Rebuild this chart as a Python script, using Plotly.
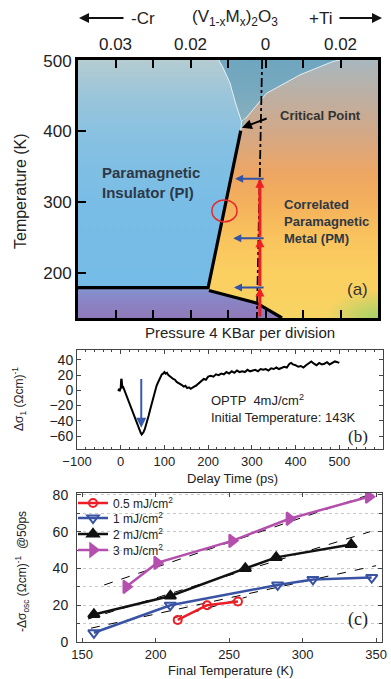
import plotly.graph_objects as go

W, H = 391, 679
FONT = "Liberation Sans, Arial, sans-serif"
SERIF = "Liberation Serif, Times New Roman, serif"

# ---------------- Panel (a): phase diagram (x in pressure divisions, y in K) ----------------
doping_ticks = [1, 2, 3, 4, 5, 6, 7]
doping_labels = ["0.03", "", "0.02", "", "0", "", "0.02"]
temp_ticks = [200, 300, 400, 500]

pi_x = [0, 3.47, 4.34, 4.36, 4.2, 4.05, 3.85, 3.75, 0]
pi_y = [179, 179, 401, 414, 440, 469, 492, 501, 501]
top_x = [4.34, 4.36, 4.2, 4.05, 3.85, 3.75, 7.0, 6.8, 5.92, 5.03, 4.5]
top_y = [401, 414, 440, 469, 492, 501, 501, 499, 480, 454, 420]
pm_x = [3.47, 3.49, 4.77, 5.44, 8, 8, 7.0, 6.8, 5.92, 5.03, 4.5, 4.34]
pm_y = [179, 175, 157, 136, 136, 501, 501, 499, 480, 454, 420, 401]
afi_x = [0, 0, 3.47, 3.49, 4.77, 5.44]
afi_y = [136, 179, 179, 175, 157, 136]
green_x = [6.6, 9.4, 9.4, 6.6]
green_y = [96, 96, 176, 176]

upper_line_x = [0, 3.47, 4.34]
upper_line_y = [179, 179, 401]
lower_line_x = [3.49, 4.77, 5.44]
lower_line_y = [175, 157, 136]
left_curve_x = [4.34, 4.36, 4.2, 4.05, 3.85, 3.75]
left_curve_y = [401, 414, 440, 469, 492, 501]
right_curve_x = [4.36, 4.5, 5.03, 5.92, 6.8, 7.0]
right_curve_y = [414, 420, 454, 480, 499, 501]
dashdot_x = [4.91, 4.77]
dashdot_y = [501, 136]

heat_x = 4.85
heat_steps = [136, 179, 249, 333]       # red arrow segments
blue_arrow_T = [333, 249, 179]
blue_arrow_from = [4.99, 4.99, 4.99]
blue_arrow_to = [4.19, 4.14, 4.16]

# ---------------- Panel (b): OPTP transient ----------------
delay_ps = [-6, -4, -2, 0, 1, 2, 3, 4, 6, 8,
            10, 13, 16, 19, 22, 25, 28, 31, 34, 37,
            40, 43, 46, 48, 50, 52, 55, 58, 61, 64,
            67, 70, 73, 76, 79, 82, 85, 88, 91, 94,
            97, 100, 103, 106, 109, 112, 116, 120, 124, 128,
            132, 136, 140, 144, 148, 152, 156, 160, 164, 168,
            172, 176, 180, 185, 190, 195, 200, 206, 212, 218,
            224, 230, 236, 242, 248, 254, 260, 266, 272, 278,
            284, 290, 296, 302, 308, 314, 320, 326, 332, 338,
            344, 350, 356, 362, 368, 374, 380, 386, 390, 394,
            400, 406, 412, 418, 424, 430, 436, 442, 448, 454,
            460, 466, 472, 478, 484, 490, 496, 500]
dsigma = [-1, 1, 0, 3, 14, 15, 8, 3, 4, 1,
          -2, -8, -11, -16, -21, -25, -30, -35, -40, -45,
          -49, -53, -56, -58, -57, -55, -51, -46, -40, -33,
          -26, -19, -13, -7, 0, 6, 10, 14, 18, 21,
          22, 24, 22, 23, 20, 19, 17, 15, 14, 11,
          10, 8, 7, 5, 6, 3, 4, 2, 4, 5,
          6, 8, 10, 13, 15, 14, 18, 19, 18, 21,
          20, 22, 21, 24, 22, 25, 23, 26, 24, 25,
          24, 27, 25, 26, 27, 25, 28, 27, 28, 26,
          29, 28, 30, 28, 29, 31, 30, 35, 36, 34,
          33, 31, 32, 30, 33, 36, 38, 35, 33, 36,
          34, 35, 37, 34, 36, 38, 37, 36]
assert len(delay_ps) == len(dsigma)
dip_arrow_t = 47
dip_arrow_from = 17
dip_arrow_to = -49

# ---------------- Panel (c): -dsigma_osc vs final temperature ----------------
fluences = ["0.5 mJ/cm<sup>2</sup>", "1 mJ/cm<sup>2</sup>", "2 mJ/cm<sup>2</sup>", "3 mJ/cm<sup>2</sup>"]
T05 = [215, 235, 256]
S05 = [12, 20, 22]
T1 = [158, 210, 283, 307, 347]
S1 = [5, 20, 31, 34, 35]
T2 = [158, 210, 261, 282, 333]
S2 = [15, 25, 40, 46, 53]
T3 = [180, 201, 252, 291, 345]
S3 = [30, 43, 55, 67, 79]
fit_T = [[212, 262], [156, 350], [154, 346], [165, 345]]
fit_S = [[13, 24.5], [7.5, 41.5], [12.5, 60], [31, 80]]

colors_c = ["#ee1d25", "#3953a4", "#111111", "#b54fae"]
symbols_c = ["circle-open", "triangle-down-open", "triangle-up", "triangle-right"]
sizes_c = [8, 10, 10, 11]
legend_rows_px = [503, 518, 534, 550]

# ======================================================================
fig = go.Figure()


def poly(x, y, stops):
    lo = min(t for t, _ in stops)
    hi = max(t for t, _ in stops)
    cs = [[(t - lo) / (hi - lo), c] for t, c in stops]
    fig.add_trace(go.Scatter(
        x=x + [x[0]], y=y + [y[0]], mode="lines", fill="toself",
        line=dict(width=0.6, color="rgba(0,0,0,0)"),
        fillgradient=dict(type="vertical", colorscale=cs, start=lo, stop=hi),
        hoverinfo="skip", showlegend=False, xaxis="x", yaxis="y"))


poly(pm_x, pm_y, [(136, "#f7d463"), (200, "#fbcf60"), (250, "#f9c35d"),
                  (300, "#f4b05c"), (340, "#eea663"), (400, "#d2a888"),
                  (460, "#b9b1a8"), (501, "#a8b7bf")])
poly(pi_x, pi_y, [(179, "#74bbe7"), (300, "#79bde6"), (380, "#84c0e2"),
                  (450, "#9ac5da"), (501, "#b5ccd1")])
poly(top_x, top_y, [(401, "#8fb2bd"), (460, "#76a9bf"), (501, "#6fa6bf")])
poly(afi_x, afi_y, [(136, "#9079b9"), (160, "#8a84c4"), (179, "#8395d1")])
fig.add_trace(go.Scatter(
    x=green_x + [green_x[0]], y=green_y + [green_y[0]], mode="lines", fill="toself",
    line=dict(width=0, color="rgba(0,0,0,0)"),
    fillgradient=dict(type="radial", colorscale=[[0, "rgba(160,210,104,0.95)"],
                                                 [1, "rgba(160,210,104,0)"]]),
    hoverinfo="skip", showlegend=False, xaxis="x", yaxis="y"))

for cx, cy in [(left_curve_x, left_curve_y), (right_curve_x, right_curve_y)]:
    fig.add_trace(go.Scatter(x=cx, y=cy, mode="lines",
                             line=dict(color="rgba(255,255,255,0.7)", width=1),
                             hoverinfo="skip", showlegend=False, xaxis="x", yaxis="y"))
fig.add_trace(go.Scatter(x=dashdot_x, y=dashdot_y, mode="lines",
                         line=dict(color="black", width=1.8, dash="dashdot"),
                         hoverinfo="skip", showlegend=False, xaxis="x", yaxis="y"))
for lx, ly in [(upper_line_x, upper_line_y), (lower_line_x, lower_line_y)]:
    fig.add_trace(go.Scatter(x=lx, y=ly, mode="lines",
                             line=dict(color="black", width=3.2),
                             hoverinfo="skip", showlegend=False, xaxis="x", yaxis="y"))

# ---- Panel (b) ----
fig.add_trace(go.Scatter(x=delay_ps, y=dsigma, mode="lines",
                         line=dict(color="black", width=2),
                         hoverinfo="skip", showlegend=False, xaxis="x2", yaxis="y2"))

# ---- Panel (c) ----
for fT, fS in zip(fit_T, fit_S):
    fig.add_trace(go.Scatter(x=fT, y=fS, mode="lines",
                             line=dict(color="black", width=1, dash="dash"),
                             hoverinfo="skip", showlegend=False, xaxis="x3", yaxis="y3"))
legend_ids = ["legend", "legend2", "legend3", "legend4"]
for name, tx, sy, col, sym, sz, lg in zip(fluences, [T05, T1, T2, T3], [S05, S1, S2, S3],
                                          colors_c, symbols_c, sizes_c, legend_ids):
    fig.add_trace(go.Scatter(
        x=tx, y=sy, mode="lines+markers", name=name, legend=lg,
        line=dict(color=col, width=2.5),
        marker=dict(symbol=sym, size=sz, color=col, line=dict(color=col, width=2)),
        xaxis="x3", yaxis="y3"))

# ---------------- annotations ----------------
ann = []


def py(p):
    return 1 - p / H


def pxx(p):
    return p / W


def ptext(text, xp, yp, size, family=FONT, angle=0, color="#222"):
    ann.append(dict(text=text, x=pxx(xp), y=py(yp), xref="paper", yref="paper",
                    xanchor="center", yanchor="middle", textangle=angle, showarrow=False,
                    font=dict(size=size, family=family, color=color)))


# header
ptext("(V<sub>1-x</sub>M<sub>x</sub>)<sub>2</sub>O<sub>3</sub>", 235, 18, 17)
ptext("-Cr", 143, 18, 17)
ptext("+Ti", 320, 18, 17)
ann.append(dict(text="", x=pxx(79), y=py(18), xref="paper", yref="paper", ax=46, ay=0,
                showarrow=True, arrowhead=2, arrowsize=1, arrowwidth=2, arrowcolor="#111"))
ann.append(dict(text="", x=pxx(382), y=py(18), xref="paper", yref="paper", ax=-44, ay=0,
                showarrow=True, arrowhead=2, arrowsize=1, arrowwidth=2, arrowcolor="#111"))

# panel (a) titles
ptext("Temperature (K)", 20, 191, 16, angle=-90)
ptext("Pressure 4 KBar per division", 240, 332, 15)

lab_col = "#2e3846"
ann.append(dict(text="<b>Critical Point</b>", x=5.33, y=423, xref="x", yref="y", xanchor="left",
                showarrow=False, font=dict(size=13, family=FONT, color="#333")))
ann.append(dict(text="<b>Paramagnetic<br>Insulator (PI)</b>", x=0.58, y=328, xref="x", yref="y",
                xanchor="left", align="left", showarrow=False,
                font=dict(size=15, family=FONT, color=lab_col)))
ann.append(dict(text="<b>Correlated<br>Paramagnetic<br>Metal (PM)</b>", x=5.45, y=273, xref="x", yref="y",
                xanchor="left", align="left", showarrow=False,
                font=dict(size=13, family=FONT, color=lab_col)))
ann.append(dict(text="(a)", x=7.44, y=177, xref="x", yref="y", showarrow=False,
                font=dict(size=17, family=FONT, color="#333")))
# critical point arrow
ann.append(dict(text="", x=4.37, y=405, ax=5.07, ay=419, xref="x", yref="y", axref="x", ayref="y",
                showarrow=True, arrowhead=2, arrowsize=1, arrowwidth=2, arrowcolor="black"))
# red heating arrow (three stacked heads)
for i in range(len(heat_steps) - 1):
    ann.append(dict(text="", x=heat_x, y=heat_steps[i + 1], ax=heat_x, ay=heat_steps[i],
                    xref="x", yref="y", axref="x", ayref="y", showarrow=True,
                    arrowhead=2, arrowsize=0.6, arrowwidth=3, arrowcolor="#f01e23"))
# blue arrows
for T, x0, x1 in zip(blue_arrow_T, blue_arrow_from, blue_arrow_to):
    ann.append(dict(text="", x=x1, y=T, ax=x0, ay=T, xref="x", yref="y", axref="x", ayref="y",
                    showarrow=True, arrowhead=2, arrowsize=0.8, arrowwidth=2, arrowcolor="#3353a8"))

# panel (b)
ptext("Δσ<sub>1</sub> (Ωcm)<sup>-1</sup>", 19, 399, 12, angle=-90)
ptext("Delay Time (ps)", 232, 478, 13)
ann.append(dict(text="OPTP  4mJ/cm<sup>2</sup><br>Initial Temperature: 143K", x=203, y=-24,
                xref="x2", yref="y2", xanchor="left", yanchor="middle", align="left",
                showarrow=False, font=dict(size=13, family=FONT, color="#222")))
ann.append(dict(text="(b)", x=543, y=-61, xref="x2", yref="y2", showarrow=False,
                font=dict(size=17, family=SERIF, color="#222")))
ann.append(dict(text="", x=dip_arrow_t, y=dip_arrow_to, ax=dip_arrow_t, ay=dip_arrow_from,
                xref="x2", yref="y2", axref="x2", ayref="y2", showarrow=True,
                arrowhead=2, arrowsize=1, arrowwidth=2, arrowcolor="#3a5ab0"))

# panel (c)
ptext("-Δσ<sub>osc</sub> (Ωcm)<sup>-1</sup>  @50ps", 22, 572, 12, angle=-90)
ptext("Final Temperature (K)", 230, 670, 13)
ann.append(dict(text="(c)", x=338, y=12, xref="x3", yref="y3", showarrow=False,
                font=dict(size=18, family=SERIF, color="#222")))

shapes = [dict(type="circle", xref="x", yref="y", x0=3.57, x1=4.24, y0=272, y1=303,
               line=dict(color="#e8262b", width=1.5), layer="above")]

axis_common = dict(showgrid=False, zeroline=False, showline=True, automargin=False)

legends = {}
for lg, rowpx in zip(legend_ids, legend_rows_px):
    legends[lg] = dict(x=pxx(73), y=py(rowpx), xanchor="left", yanchor="middle",
                       bgcolor="rgba(0,0,0,0)", borderwidth=0,
                       font=dict(size=12, family=FONT, color="#222"), itemwidth=30)

fig.update_layout(
    template="none",
    width=W, height=H, autosize=False,
    margin=dict(l=0, r=0, t=0, b=0, pad=0, autoexpand=False),
    paper_bgcolor="white", plot_bgcolor="white",
    font=dict(family=FONT, color="#222"),
    annotations=ann, shapes=shapes,
    showlegend=True,
    **legends,
    xaxis=dict(domain=[78 / W, 378 / W], range=[0, 8], anchor="y", side="top",
               tickvals=doping_ticks, ticktext=doping_labels, ticks="inside", ticklen=8, tickwidth=2,
               tickcolor="black", linecolor="black", linewidth=3, mirror="ticks",
               tickfont=dict(size=17, family=FONT, color="#222"), **axis_common),
    yaxis=dict(domain=[1 - 318 / H, 1 - 60 / H], range=[136, 501], anchor="x",
               tickvals=temp_ticks, ticks="inside", ticklen=8, tickwidth=2, tickcolor="black",
               linecolor="black", linewidth=3, mirror=True,
               tickfont=dict(size=17, family=FONT, color="#222"), **axis_common),
    xaxis2=dict(domain=[77 / W, 383 / W], range=[-100, 600], anchor="y2",
                tickvals=[-100, 0, 100, 200, 300, 400, 500, 600], ticks="inside", ticklen=4,
                minor=dict(dtick=20, ticks="inside", ticklen=2, tickcolor="#444"),
                linecolor="#444", linewidth=1, mirror="ticks", tickcolor="#444",
                tickfont=dict(size=13, family=FONT, color="#222"), **axis_common),
    yaxis2=dict(domain=[1 - 449 / H, 1 - 350 / H], range=[-77, 53], anchor="x2",
                tickvals=[-60, -40, -20, 0, 20, 40], ticks="inside", ticklen=4,
                linecolor="#444", linewidth=1, mirror="ticks", tickcolor="#444",
                tickfont=dict(size=14, family=FONT, color="#222"), **axis_common),
    xaxis3=dict(domain=[77 / W, 382 / W], range=[146.5, 354], anchor="y3",
                tickvals=[150, 200, 250, 300, 350], ticks="inside", ticklen=4,
                linecolor="#444", linewidth=1, mirror="ticks", tickcolor="#444",
                tickfont=dict(size=13, family=FONT, color="#222"), **axis_common),
    yaxis3=dict(domain=[1 - 642 / H, 1 - 493 / H], range=[0, 81], anchor="x3",
                tickvals=[0, 20, 40, 60, 80], ticks="inside", ticklen=4,
                ticklabelstandoff=5,
                linecolor="#444", linewidth=1, mirror="ticks", tickcolor="#444",
                showgrid=True, griddash="dot", gridcolor="#c8c8c8", gridwidth=1,
                minor=dict(dtick=10, ticks="inside", ticklen=3, tickcolor="#444",
                           showgrid=True, griddash="dot", gridcolor="#c8c8c8"),
                zeroline=False, showline=True, automargin=False,
                tickfont=dict(size=14, family=FONT, color="#222")),
)

fig.write_html("out.html")
